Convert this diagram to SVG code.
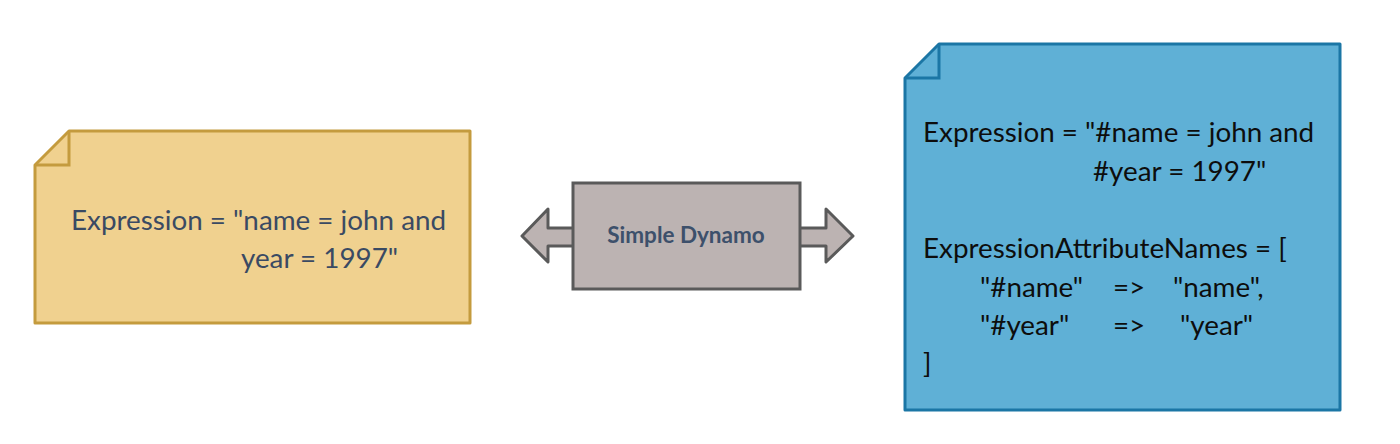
<svg xmlns="http://www.w3.org/2000/svg" width="1400" height="444" viewBox="0 0 1400 444">
<style>
.t{font-family:Lato,"Open Sans","Liberation Sans",sans-serif;font-size:27.8px}
.l{fill:#3a4a63}
.r{fill:#0d0d0d}
</style>
<rect width="1400" height="444" fill="#ffffff"/>
<g id="left-note">
<path d="M69,131 H470 V323 H35 V165 Z" fill="#f0d18f" stroke="#c49b3e" stroke-width="3" stroke-linejoin="round"/>
<path d="M69,131 V165 H35" fill="none" stroke="#c49b3e" stroke-width="3"/>
<text class="t l" x="71" y="230">Expression = "name = john and</text>
<text class="t l" x="241" y="268">year = 1997"</text>
</g>
<g id="connectors">
<path d="M573,228 H548 V209 L522,236 L548,262 V246 H573" fill="#bcb3b2" stroke="#5a5a5a" stroke-width="3" stroke-linejoin="round"/>
<path d="M800,228 H826 V209 L853,236 L826,262 V246 H800" fill="#bcb3b2" stroke="#5a5a5a" stroke-width="3" stroke-linejoin="round"/>
</g>
<g id="simple-dynamo">
<rect x="573" y="183" width="227" height="106" fill="#bcb3b2" stroke="#5a5a5a" stroke-width="3"/>
<text x="686" y="243" text-anchor="middle" font-family="Lato,'Open Sans','Liberation Sans',sans-serif" font-size="22.5" font-weight="bold" fill="#3d506b">Simple Dynamo</text>
</g>
<g id="right-note">
<path d="M939,44 H1340 V410 H905 V78 Z" fill="#5fb0d6" stroke="#1b76a5" stroke-width="3" stroke-linejoin="round"/>
<path d="M939,44 V78 H905" fill="none" stroke="#1b76a5" stroke-width="3"/>
<text class="t r" x="923" y="142">Expression = "#name = john and</text>
<text class="t r" x="1093" y="181">#year = 1997"</text>
<text class="t r" x="923" y="258">ExpressionAttributeNames = [</text>
<text class="t r" x="980" y="297">"#name"</text>
<text class="t r" x="1113" y="297">=&gt;</text>
<text class="t r" x="1173" y="297">"name",</text>
<text class="t r" x="980" y="335">"#year"</text>
<text class="t r" x="1113" y="335">=&gt;</text>
<text class="t r" x="1180" y="335">"year"</text>
<text class="t r" x="923" y="373">]</text>
</g>
</svg>
